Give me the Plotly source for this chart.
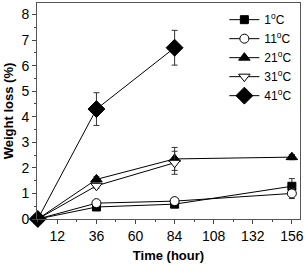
import plotly.graph_objects as go

hours = [0, 36, 84, 156]
hours_31 = [0, 36, 84]
hours_41 = [0, 36, 84]

loss_1 = [0, 0.47, 0.58, 1.28]
err_1 = [0, 0.08, 0.1, 0.3]
loss_11 = [0, 0.62, 0.7, 1.0]
err_11 = [0, 0.1, 0.12, 0.2]
loss_21 = [0, 1.55, 2.35, 2.42]
err_21 = [0, 0.1, 0.45, 0.1]
loss_31 = [0, 1.3, 2.2]
err_31 = [0, 0.1, 0.45]
loss_41 = [0, 4.3, 6.7]
err_41 = [0, 0.64, 0.68]

labels = ["1<sup>o</sup>C", "11<sup>o</sup>C", "21<sup>o</sup>C", "31<sup>o</sup>C", "41<sup>o</sup>C"]
xticks = [12, 36, 60, 84, 108, 132, 156]
yticks = [0, 1, 2, 3, 4, 5, 6, 7, 8]

series = [
    (hours, loss_1, err_1, "square", "black", 8),
    (hours, loss_11, err_11, "circle", "white", 9),
    (hours, loss_21, err_21, "triangle-up", "black", 10),
    (hours_31, loss_31, err_31, "triangle-down", "white", 10),
    (hours_41, loss_41, err_41, "diamond", "black", 13),
]

fig = go.Figure()
for (xs, ys, es, sym, col, sz), lab in zip(series, labels):
    fig.add_trace(go.Scatter(
        x=xs, y=ys, name=lab, mode="lines+markers",
        line=dict(color="black", width=1),
        marker=dict(symbol=sym, size=sz, color=col,
                    line=dict(color="black", width=1)),
        error_y=dict(type="data", array=es, visible=True, color="#333", thickness=1, width=3),
        cliponaxis=False,
    ))

fig.update_layout(
    width=306, height=265,
    margin=dict(l=37, r=2, t=2, b=46),
    paper_bgcolor="white", plot_bgcolor="white",
    font=dict(family="Liberation Sans, Arial, sans-serif", size=14, color="black"),
    showlegend=True,
    legend=dict(x=0.99, y=0.99, xanchor="right", yanchor="top",
                bgcolor="rgba(0,0,0,0)", font=dict(size=12),
                itemwidth=30, tracegroupgap=0),
)
fig.update_xaxes(
    range=[-0.5, 161], tickvals=xticks, ticks="outside", ticklen=4,
    ticklabeloverflow="allow",
    showline=True, linecolor="#555", linewidth=1, mirror=True, showgrid=False, zeroline=False,
    minor=dict(ticks="outside", ticklen=2, dtick=12, tick0=0),
    title=dict(text="<b>Time (hour)</b>", font=dict(size=13), standoff=8),
)
fig.update_yaxes(
    range=[0, 8.45], tickvals=yticks, ticks="outside", ticklen=4,
    showline=True, linecolor="#555", linewidth=1, mirror=True, showgrid=False, zeroline=False,
    minor=dict(ticks="outside", ticklen=2, dtick=0.5, tick0=0),
    title=dict(text="<b>Weight loss (%)</b>", font=dict(size=13), standoff=4),
)

fig.write_html("out.html")
